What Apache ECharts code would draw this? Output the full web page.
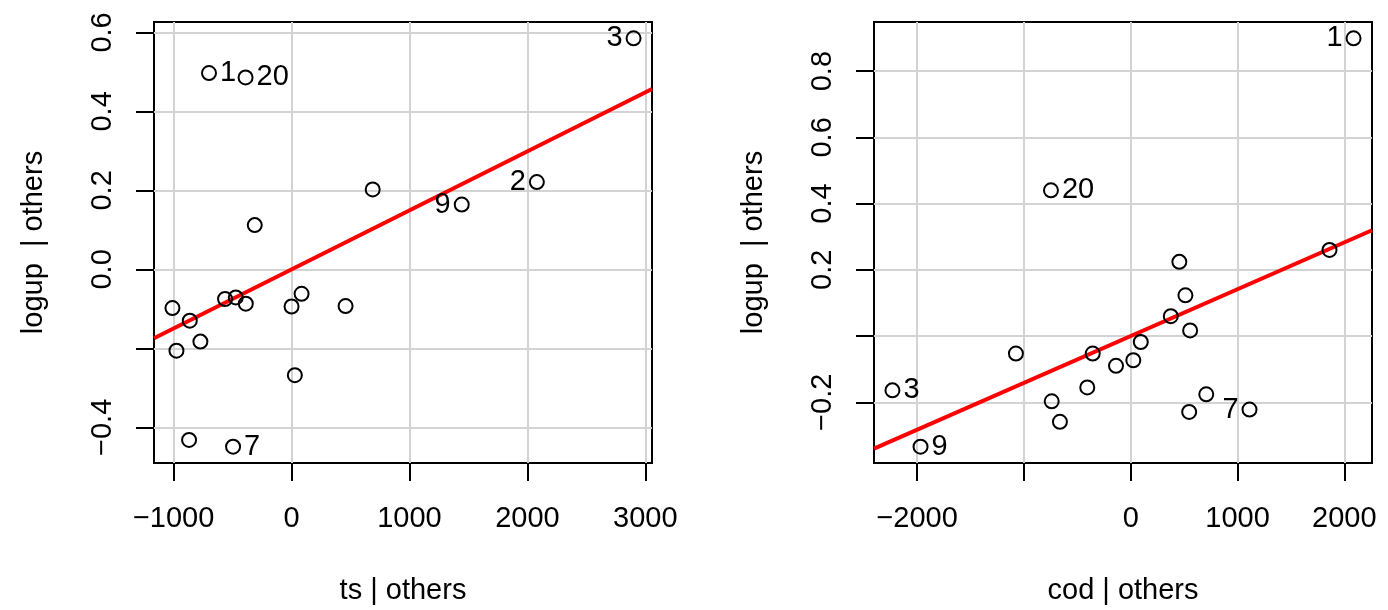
<!DOCTYPE html>
<html>
<head>
<meta charset="utf-8">
<script src="https://cdn.jsdelivr.net/npm/echarts@6/dist/echarts.min.js"></script>
<style>
html,body{margin:0;padding:0;background:#fff;}
#c{width:1388px;height:610px;}
</style>
</head>
<body>
<div id="c"></div>
<script>
// ---- data: left panel (ts | others) ----
const tsX = [-700, -390, 2900, -312, 688, 1443, 2080, -1010, -863, -564, -473, -388, 0, 85, 458, -976, -773, 28, -869, -496];
const tsY = [0.497, 0.486, 0.585, 0.112, 0.2025, 0.164, 0.221, -0.098, -0.130, -0.075, -0.071, -0.087, -0.094, -0.062, -0.093, -0.206, -0.183, -0.268, -0.432, -0.449];
const tsLabels = ['1', '20', '3', '', '', '9', '2', '', '', '', '', '', '', '', '', '', '', '', '', '7'];
const tsLabelSide = ['right', 'right', 'left', '', '', 'left', 'left', '', '', '', '', '', '', '', '', '', '', '', '', 'right'];
const tsSlope = 1.494e-4;

// ---- data: right panel (cod | others) ----
const codX = [2086, -747, 1861, 455, 512, 375, 556, 94, -356, -1075, 24, -138, -407, -740, -663, 707, 547, 1112, -2231, -1968];
const codY = [0.899, 0.440, 0.260, 0.224, 0.123, 0.060, 0.017, -0.018, -0.053, -0.053, -0.073, -0.090, -0.155, -0.197, -0.259, -0.176, -0.229, -0.222, -0.164, -0.334];
const codLabels = ['1', '20', '', '', '', '', '', '', '', '', '', '', '', '', '', '', '', '7', '3', '9'];
const codLabelSide = ['left', 'right', '', '', '', '', '', '', '', '', '', '', '', '', '', '', '', 'left', 'right', 'right'];
const codSlope = 1.414e-4;

// ---- ticks / tick labels ----
const tsXTicks = [-1000, 0, 1000, 2000, 3000];
const tsXTickLabels = [-1000, 0, 1000, 2000, 3000];
const tsYTicks = [-0.4, -0.2, 0.0, 0.2, 0.4, 0.6];
const tsYTickLabels = [-0.4, 0.0, 0.2, 0.4, 0.6];
const codXTicks = [-2000, -1000, 0, 1000, 2000];
const codXTickLabels = [-2000, 0, 1000, 2000];
const codYTicks = [-0.2, 0.0, 0.2, 0.4, 0.6, 0.8];
const codYTickLabels = [-0.2, 0.2, 0.4, 0.6, 0.8];

const xTitles = ['ts | others', 'cod | others'];
const yTitles = ['logup  | others', 'logup  | others'];

// ---------------------------------------------------------------
const FONT = 'Liberation Sans, Arial, Helvetica, sans-serif';
const FS = 29;

function range(arr) {
  const mn = Math.min(...arr), mx = Math.max(...arr);
  const pad = (mx - mn) * 0.04;
  return [mn - pad, mx + pad];
}
function fmtX(v) { return String(Math.round(v)).replace('-', '\u2212'); }
function fmtY(v) { return (Math.abs(v) < 1e-9 ? 0 : v).toFixed(1).replace('-', '\u2212'); }

function pointData(xs, ys, labs, sides) {
  return xs.map((x, i) => {
    const d = { value: [x, ys[i]] };
    if (labs[i]) {
      d.label = { show: true, position: sides[i], formatter: labs[i], distance: 3,
        fontSize: FS, fontFamily: FONT, color: '#000', opacity: 1 };
    }
    return d;
  });
}

function xAxisCfg(idx, rng, ticks, labels, title) {
  return {
    type: 'value', gridIndex: idx, min: rng[0], max: rng[1],
    axisLine: { show: false, onZero: false },
    axisTick: { show: true, inside: false, length: 18, customValues: ticks,
      lineStyle: { color: '#000', width: 2 } },
    splitLine: { show: true, customValues: ticks, lineStyle: { color: '#d3d3d3', width: 2 } },
    axisLabel: { show: true, customValues: labels, formatter: fmtX, margin: 41,
      fontSize: FS, fontFamily: FONT, color: '#000' },
    name: title, nameLocation: 'middle', nameGap: 113,
    nameTextStyle: { fontSize: FS, fontFamily: FONT, color: '#000' }
  };
}
function yAxisCfg(idx, rng, ticks, labels, title) {
  return {
    type: 'value', gridIndex: idx, min: rng[0], max: rng[1],
    axisLine: { show: false, onZero: false },
    axisTick: { show: true, inside: false, length: 18, customValues: ticks,
      lineStyle: { color: '#000', width: 2 } },
    splitLine: { show: true, customValues: ticks, lineStyle: { color: '#d3d3d3', width: 2 } },
    axisLabel: { show: true, customValues: labels, formatter: fmtY, rotate: 90, margin: 37,
      fontSize: FS, fontFamily: FONT, color: '#000' },
    name: title, nameLocation: 'middle', nameGap: 106, nameRotate: 90,
    nameTextStyle: { fontSize: FS, fontFamily: FONT, color: '#000' }
  };
}

const tsXR = range(tsX), tsYR = range(tsY);
const codXR = range(codX), codYR = range(codY);

const chart = echarts.init(document.getElementById('c'), null, { renderer: 'canvas' });
chart.setOption({
  animation: false,
  backgroundColor: '#fff',
  grid: [
    { left: 154, top: 22, width: 498, height: 441.5, show: true, borderColor: '#000', borderWidth: 2, backgroundColor: 'transparent', containLabel: false },
    { left: 874, top: 22, width: 498, height: 441.5, show: true, borderColor: '#000', borderWidth: 2, backgroundColor: 'transparent', containLabel: false }
  ],
  xAxis: [
    xAxisCfg(0, tsXR, tsXTicks, tsXTickLabels, xTitles[0]),
    xAxisCfg(1, codXR, codXTicks, codXTickLabels, xTitles[1])
  ],
  yAxis: [
    yAxisCfg(0, tsYR, tsYTicks, tsYTickLabels, yTitles[0]),
    yAxisCfg(1, codYR, codYTicks, codYTickLabels, yTitles[1])
  ],
  series: [
    { type: 'line', xAxisIndex: 0, yAxisIndex: 0, symbol: 'none', silent: true, z: 3,
      data: [[tsXR[0], tsSlope * tsXR[0]], [tsXR[1], tsSlope * tsXR[1]]],
      lineStyle: { color: '#ff0000', width: 4 } },
    { type: 'scatter', xAxisIndex: 0, yAxisIndex: 0, symbol: 'circle', symbolSize: 14, z: 4,
      data: pointData(tsX, tsY, tsLabels, tsLabelSide),
      itemStyle: { color: 'rgba(0,0,0,0)', borderColor: '#000', borderWidth: 2, opacity: 1 },
      emphasis: { disabled: true } },
    { type: 'line', xAxisIndex: 1, yAxisIndex: 1, symbol: 'none', silent: true, z: 3,
      data: [[codXR[0], codSlope * codXR[0]], [codXR[1], codSlope * codXR[1]]],
      lineStyle: { color: '#ff0000', width: 4 } },
    { type: 'scatter', xAxisIndex: 1, yAxisIndex: 1, symbol: 'circle', symbolSize: 14, z: 4,
      data: pointData(codX, codY, codLabels, codLabelSide),
      itemStyle: { color: 'rgba(0,0,0,0)', borderColor: '#000', borderWidth: 2, opacity: 1 },
      emphasis: { disabled: true } }
  ]
});
</script>
</body>
</html>
